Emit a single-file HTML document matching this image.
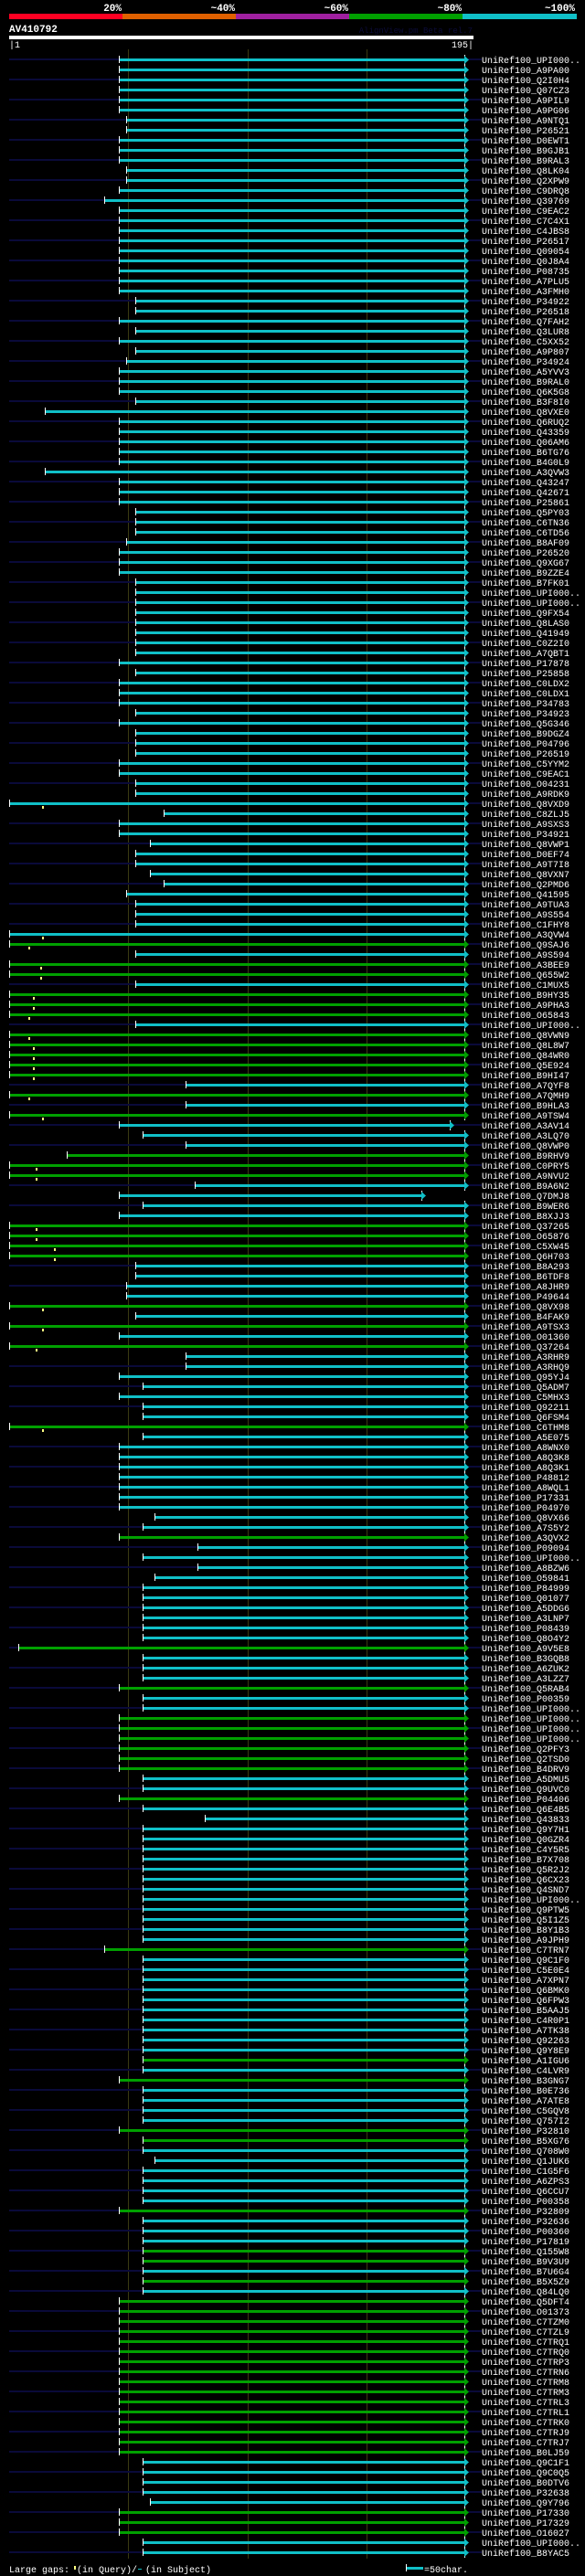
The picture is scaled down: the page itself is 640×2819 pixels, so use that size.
<!DOCTYPE html>
<html><head><meta charset="utf-8"><title>AV410792 alignment overview</title>
<style>
html,body{margin:0;padding:0;background:#000;}
svg{display:block;}
text{font-family:"Liberation Mono",monospace;}
</style></head>
<body>
<svg id="chart" width="640" height="2819" viewBox="0 0 640 2819" xmlns="http://www.w3.org/2000/svg" shape-rendering="crispEdges">
  <rect x="0" y="0" width="640" height="2819" fill="#000"/>
  <g>
    <rect x="10" y="15" width="124" height="6" fill="#ff0022"/>
    <rect x="134" y="15" width="124" height="6" fill="#e06000"/>
    <rect x="258" y="15" width="124" height="6" fill="#a020a0"/>
    <rect x="382" y="15" width="124" height="6" fill="#00a000"/>
    <rect x="506" y="15" width="125" height="6" fill="#10c0c8"/>
    <text x="133" y="12" text-anchor="end" fill="#fff" font-size="11" font-weight="bold">20%</text>
    <text x="257" y="12" text-anchor="end" fill="#fff" font-size="11" font-weight="bold">~40%</text>
    <text x="381" y="12" text-anchor="end" fill="#fff" font-size="11" font-weight="bold">~60%</text>
    <text x="505" y="12" text-anchor="end" fill="#fff" font-size="11" font-weight="bold">~80%</text>
    <text x="629" y="12" text-anchor="end" fill="#fff" font-size="11" font-weight="bold">~100%</text>
  </g>
  <text x="10" y="35" fill="#fff" font-size="11" font-weight="bold">AV410792</text>
  <text x="517" y="36" text-anchor="end" fill="#0c0c3a" font-size="9">AlignView.pm Beta rel.7</text>
  <rect x="10" y="39" width="508" height="4" fill="#fff"/>
  <text x="10" y="52" fill="#fff" font-size="10">|1</text>
  <text x="518" y="52" text-anchor="end" fill="#fff" font-size="10">195|</text>
  <g id="grid"></g>
  <g id="rows"></g>
  <g>
    <text x="10" y="2815" fill="#fff" font-size="10">Large gaps:</text>
    <rect x="81" y="2808" width="2" height="4" fill="#ffff80"/>
    <text x="84" y="2815" fill="#fff" font-size="10">(in Query)/</text>
    <rect x="151" y="2811" width="4" height="1" fill="#10c0c8"/>
    <text x="159" y="2815" fill="#fff" font-size="10">(in Subject)</text>
    <rect x="445" y="2809" width="18" height="3" fill="#10c0c8"/>
    <rect x="444" y="2806" width="1" height="8" fill="#fff"/>
    <text x="464" y="2815" fill="#fff" font-size="10">=50char.</text>
  </g>
</svg>
<script>
const names = "UPI000..,A9PA00,Q2I0H4,Q07CZ3,A9PIL9,A9PG06,A9NTQ1,P26521,D0EWT1,B9GJB1,B9RAL3,Q8LK04,Q2XPW9,C9DRQ8,Q39769,C9EAC2,C7C4X1,C4JBS8,P26517,Q09054,Q0J8A4,P08735,A7PLU5,A3FMH0,P34922,P26518,Q7FAH2,Q3LUR8,C5XX52,A9P807,P34924,A5YVV3,B9RAL0,Q6K5G8,B3F8I0,Q8VXE0,Q6RUQ2,Q43359,Q06AM6,B6TG76,B4G0L9,A3QVW3,Q43247,Q42671,P25861,Q5PY03,C6TN36,C6TD56,B8AF09,P26520,Q9XG67,B9ZZE4,B7FK01,UPI000..,UPI000..,Q9FX54,Q8LAS0,Q41949,C0Z2I0,A7QBT1,P17878,P25858,C0LDX2,C0LDX1,P34783,P34923,Q5G346,B9DGZ4,P04796,P26519,C5YYM2,C9EAC1,O04231,A9RDK9,Q8VXD9,C8ZLJ5,A9SXS3,P34921,Q8VWP1,D0EF74,A9T7I8,Q8VXN7,Q2PMD6,Q41595,A9TUA3,A9S554,C1FHY8,A3QVW4,Q9SAJ6,A9S594,A3BEE9,Q655W2,C1MUX5,B9HY35,A9PHA3,O65843,UPI000..,Q8VWN9,Q8L8W7,Q84WR0,Q5E924,B9HI47,A7QYF8,A7QMH9,B9HLA3,A9TSW4,A3AV14,A3LQ70,Q8VWP0,B9RHV9,C0PRY5,A9NVU2,B9A6N2,Q7DMJ8,B9WER6,B8XJJ3,Q37265,O65876,C5XW45,Q6H703,B8A293,B6TDF8,A8JHR9,P49644,Q8VX98,B4FAK9,A9TSX3,O01360,Q37264,A3RHR9,A3RHQ9,Q95YJ4,Q5ADM7,C5MHX3,Q92211,Q6FSM4,C6THM8,A5E075,A8WNX0,A8Q3K8,A8Q3K1,P48812,A8WQL1,P17331,P04970,Q8VX66,A7S5Y2,A3QVX2,P09094,UPI000..,A8BZW6,O59841,P84999,Q01077,A5DDG6,A3LNP7,P08439,Q8O4Y2,A9V5E8,B3GQB8,A6ZUK2,A3LZZ7,Q5RAB4,P00359,UPI000..,UPI000..,UPI000..,UPI000..,Q2PFY3,Q2TSD0,B4DRV9,A5DMU5,Q9UVC0,P04406,Q6E4B5,Q43833,Q9Y7H1,Q0GZR4,C4Y5R5,B7X708,Q5R2J2,Q6CX23,Q4SND7,UPI000..,Q9PTW5,Q5I1Z5,B8Y1B3,A9JPH9,C7TRN7,Q9C1F0,C5E0E4,A7XPN7,Q6BMK0,Q6FPW3,B5AAJ5,C4R0P1,A7TK38,Q92263,Q9Y8E9,A1IGU6,C4LVR9,B3GNG7,B0E736,A7ATE8,C5GQV8,Q757I2,P32810,B5XG76,Q708W0,Q1JUK6,C1G5F6,A6ZPS3,Q6CCU7,P00358,P32809,P32636,P00360,P17819,Q155W8,B9V3U9,B7U6G4,B5X5Z9,Q84LQ0,Q5DFT4,O01373,C7TZM0,C7TZL9,C7TRQ1,C7TRQ0,C7TRP3,C7TRN6,C7TRM8,C7TRM3,C7TRL3,C7TRL1,C7TRK0,C7TRJ9,C7TRJ7,B0LJ59,Q9C1F1,Q9C0Q5,B0DTV6,P32638,Q9Y796,P17330,P17329,O16027,UPI000..,B8YAC5".split(",");
const starts = [47,47,47,47,47,47,
50,50,47,47,47,50,50,47,41,47,47,47,47,47,47,47,47,47,54,54,47,54,47,54,50,47,47,
47,54,16,47,47,47,47,47,16,47,47,47,54,54,54,50,47,47,47,54,54,54,54,54,54,54,54,
47,54,47,47,47,54,47,54,54,54,47,47,54,54,1,66,47,47,60,54,54,60,66,50,54,54,
54,1,1,54,1,1,54,1,1,1,54,1,1,
1,1,1,75,1,75,1,47,57,75,25,1,1,79,47,57,47,1,1,1,1,54,54,50,50,1,54,
1,47,1,75,75,47,57,47,57,57,1,57,47,47,47,47,47,47,47,62,57,47,80,57,80,62,57,
57,57,57,57,57,5,57,57,57,47,57,57,47,47,47,47,47,47,57,57,47,57,83,57,57,57,57,57,
57,57,57,57,57,57,57,41,57,57,57,57,57,57,57,57,57,57,57,57,47,57,57,57,57,47,57,
57,62,57,57,57,57,47,57,57,57,57,57,57,57,57,47,47,47,47,47,47,47,47,47,47,47,47,47,47,47,47,57,
57,57,57,60,47,47,47,57,57];
const greenRows = [88,90,91,93,94,95,97,98,99,100,101,103,105,109,110,111,116,117,118,119,124,126,128,136,147,158,162,165,166,167,168,169,170,173,188,199,201,206,207,214,218,219,221,223,224,225,226,227,228,229,230,231,232,233,234,235,236,237,238,244,245,246];
const shortEndRows = [106,113];
const shortEndValues = [186,174];
const gapRows = [74,87,88,90,91,93,94,95,97,98,99,100,101,103,105,110,111,116,117,118,119,124,126,128,136];
const gapValues = [15,15,9,14,14,11,11,9,9,11,11,11,11,9,15,12,12,12,12,20,20,15,15,12,15];
const gridTicks = [50,100,150];
const defaultEnd = 192;

const NS = "http://www.w3.org/2000/svg";
const X0 = 10, PX = 2.605, Y0 = 65, DY = 11;
function xs(res){ return X0 + (res - 1) * PX; }
function ys(i){ return Y0 + i * DY; }
function mk(tag, attrs, parent){
  const e = document.createElementNS(NS, tag);
  for (const k in attrs) e.setAttribute(k, attrs[k]);
  parent.appendChild(e);
  return e;
}
const CYAN = "#10c0c8", GREEN = "#00a000", NAVY = "#0a0a3a";
const grid = document.getElementById("grid");
gridTicks.forEach(t => {
  const l = mk("rect", {x: Math.round(xs(t + 1)), y: 54, width: 1, height: 2746, fill: "#3a3a12"}, grid);
  
  
});
const rowsG = document.getElementById("rows");
names.forEach((nm, i) => {
  const y = ys(i);
  const g = mk("g", {}, rowsG);
  
  
  const color = greenRows.indexOf(i) >= 0 ? GREEN : CYAN;
  const sIdx = shortEndRows.indexOf(i);
  const end = sIdx >= 0 ? shortEndValues[sIdx] : defaultEnd;
  const sx = Math.round(xs(starts[i]));
  const ex = Math.round(xs(end));
  if (i % 2 === 0) {
    if (sx > X0 + 2) {
      const nl = mk("rect", {x: X0, y: y - 1, width: sx - X0, height: 2, fill: NAVY}, g);
      
      
    }
    const nr = mk("rect", {x: ex + 4, y: y - 1, width: 527 - ex - 4, height: 2, fill: NAVY}, g);
    
    
  }
  const bar = mk("rect", {x: sx, y: y - 1, width: ex - sx, height: 3, fill: color}, g);
  
  
  const st = mk("rect", {x: sx, y: y - 4, width: 1, height: 8, fill: "#fff"}, g);
  
  
  const et = mk("rect", {x: ex, y: y - 5, width: 1, height: 11, fill: "#fff", "stroke-dasharray": "1 1"}, g);
  
  
  const ar = mk("polygon", {points: (ex) + "," + (y - 4) + " " + (ex + 5) + "," + (y + 0.5) + " " + (ex) + "," + (y + 5), fill: color, "shape-rendering": "auto"}, g);
  
  
  const gIdx = gapRows.indexOf(i);
  if (gIdx >= 0) {
    const gm = mk("rect", {x: Math.round(xs(gapValues[gIdx])), y: y + 3, width: 2, height: 3, fill: "#ffff80"}, g);
    
    
  }
  const t = mk("text", {x: 527, y: y + 4, fill: "#fff", "font-size": "10"}, g);
  t.textContent = "UniRef100_" + nm;
  
  
});
</script>
</body></html>
